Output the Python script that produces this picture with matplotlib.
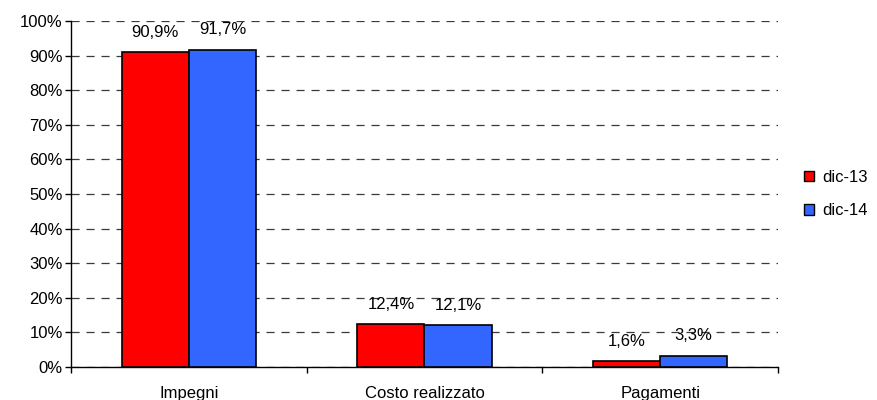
import matplotlib
matplotlib.use("Agg")
import matplotlib.pyplot as plt
import numpy as np
from matplotlib.patches import Patch

plt.rcParams['font.family'] = ['Liberation Sans', 'DejaVu Sans']

categories = ["Impegni", "Costo realizzato", "Pagamenti"]
series_names = ["dic-13", "dic-14"]
dic13 = [90.9, 12.4, 1.6]
dic14 = [91.7, 12.1, 3.3]
labels13 = ["90,9%", "12,4%", "1,6%"]
labels14 = ["91,7%", "12,1%", "3,3%"]
colors = ["#FF0000", "#3366FF"]
yticks = list(range(0, 101, 10))

FS = 12

fig = plt.figure(figsize=(8.78, 4.0), dpi=100)
ax = fig.add_axes([71/878, 33/400, (778-71)/878, (367-21)/400])

x = np.arange(len(categories))
w = 0.285
for i, (vals, labs) in enumerate([(dic13, labels13), (dic14, labels14)]):
    pos = x + (i - 0.5) * w
    ax.bar(pos, vals, width=w, color=colors[i], edgecolor="black", linewidth=1.2,
           label=series_names[i], zorder=3)
    for p, v, l in zip(pos, vals, labs):
        ax.annotate(l, (p, v), xytext=(0, 9), textcoords="offset points",
                    ha="center", va="bottom", fontsize=FS)

ax.set_xlim(-0.5, len(categories) - 0.5)
ax.set_ylim(0, 100)
ax.set_yticks(yticks)
ax.set_yticklabels([f"{t}%" for t in yticks], fontsize=FS)
ax.set_xticks(np.arange(len(categories) + 1) - 0.5, minor=False)
ax.set_xticklabels([])
ax.set_xticks(x, minor=True)
ax.set_xticklabels(categories, minor=True, fontsize=FS)
ax.tick_params(axis="x", which="minor", length=0, pad=14)
ax.tick_params(axis="x", which="major", length=4, direction="out", width=1)
ax.tick_params(axis="y", length=4, direction="out", width=1, pad=2)

ax.yaxis.grid(True, linestyle=(0, (6.5, 5.5)), color="#3a3a3a", linewidth=0.9, zorder=0)
ax.set_axisbelow(True)
for s in ["top", "right"]:
    ax.spines[s].set_visible(False)
for s in ["left", "bottom"]:
    ax.spines[s].set_linewidth(1)
    ax.spines[s].set_color("black")

handles = [Patch(facecolor=colors[i], edgecolor="black", linewidth=1, label=series_names[i])
           for i in range(2)]
fig.legend(handles=handles, loc="center left", bbox_to_anchor=(789/878, 1 - 194/400),
           frameon=False, fontsize=FS, handlelength=0.6, handleheight=0.6,
           handletextpad=0.5, labelspacing=1.1)

fig.savefig("out.png", dpi=100)
